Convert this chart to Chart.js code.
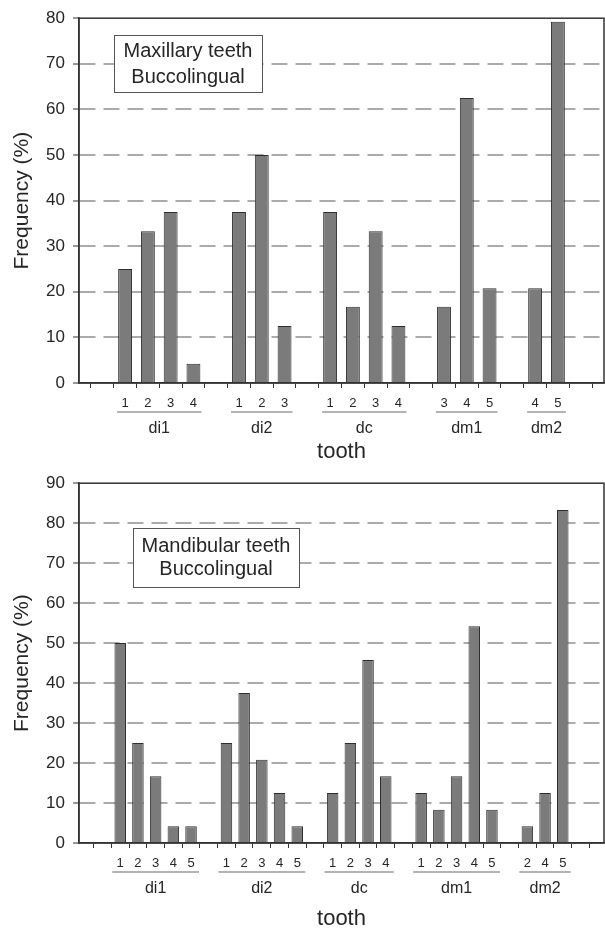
<!DOCTYPE html>
<html>
<head>
<meta charset="utf-8">
<script src="https://cdn.jsdelivr.net/npm/chart.js@4.4.1/dist/chart.umd.min.js"></script>
<style>
    html, body { margin: 0; padding: 0; background: #fff; }
    canvas { position: absolute; left: 0; }
    #upper-chart { top: 0; }
    #lower-chart { top: 465px; }
</style>
</head>
<body>
<canvas id="upper-chart" width="605" height="465"></canvas>
<canvas id="lower-chart" width="605" height="465"></canvas>
<script>
// Maxillary teeth
const upperGroups = ['di1', 'di2', 'dc', 'dm1', 'dm2'];
const upperTypes = [[1, 2, 3, 4], [1, 2, 3], [1, 2, 3, 4], [3, 4, 5], [4, 5]];
const upperFreq = [[25, 33.3, 37.5, 4.2], [37.5, 50, 12.5], [37.5, 16.7, 33.3, 12.5], [16.7, 62.5, 20.8], [20.8, 79.2]];
const upperTicks = [0, 10, 20, 30, 40, 50, 60, 70, 80];

// Mandibular teeth
const lowerGroups = ['di1', 'di2', 'dc', 'dm1', 'dm2'];
const lowerTypes = [[1, 2, 3, 4, 5], [1, 2, 3, 4, 5], [1, 2, 3, 4], [1, 2, 3, 4, 5], [2, 4, 5]];
const lowerFreq = [[50, 25, 16.7, 4.2, 4.2], [25, 37.5, 20.8, 12.5, 4.2], [12.5, 25, 45.8, 16.7], [12.5, 8.3, 16.7, 54.2, 8.3], [4.2, 12.5, 83.3]];
const lowerTicks = [0, 10, 20, 30, 40, 50, 60, 70, 80, 90];

const FONT = '"Liberation Sans", Arial, sans-serif';
Chart.defaults.font.family = FONT;
Chart.defaults.color = '#262626';

// one empty slot before, between and after each tooth group
function buildSlots(groups, types, freq) {
    const labels = [''];
    const points = [];
    const spans = [];
    groups.forEach((g, gi) => {
        const start = labels.length;
        types[gi].forEach((t, ti) => {
            points.push({ x: labels.length, y: freq[gi][ti] });
            labels.push(String(t));
        });
        spans.push({ name: g, start: start, end: labels.length - 1 });
        labels.push('');
    });
    return { labels, points, spans };
}

// box around the plot area
const frame = {
    id: 'frame',
    afterDatasetsDraw(chart) {
        const a = chart.chartArea;
        const ctx = chart.ctx;
        ctx.save();
        ctx.strokeStyle = '#333';
        ctx.lineWidth = 1.5;
        ctx.strokeRect(a.left, a.top, a.right - a.left, a.bottom - a.top);
        ctx.restore();
    }
};

// underline + tooth name under each group
const groupLabels = {
    id: 'groupLabels',
    afterDraw(chart, args, opts) {
        const ctx = chart.ctx;
        const x = chart.scales.x;
        const base = chart.chartArea.bottom;
        ctx.save();
        opts.spans.forEach(span => {
            const c1 = x.getPixelForValue(span.start);
            const c2 = x.getPixelForValue(span.end);
            ctx.strokeStyle = '#9a9a9a';
            ctx.lineWidth = 1.5;
            ctx.beginPath();
            ctx.moveTo(c1 - opts.overhang, base + opts.lineOffset);
            ctx.lineTo(c2 + opts.overhang, base + opts.lineOffset);
            ctx.stroke();
            ctx.fillStyle = '#262626';
            ctx.font = '16px ' + FONT;
            ctx.textAlign = 'center';
            ctx.textBaseline = 'middle';
            ctx.fillText(span.name, (c1 + c2) / 2, base + opts.labelOffset);
        });
        ctx.restore();
    }
};

// the boxed note inside the plot
const noteBox = {
    id: 'noteBox',
    afterDatasetsDraw(chart, args, opts) {
        const ctx = chart.ctx;
        ctx.save();
        ctx.fillStyle = '#fff';
        ctx.fillRect(opts.left, opts.top, opts.width, opts.height);
        ctx.strokeStyle = '#555';
        ctx.lineWidth = 1;
        ctx.strokeRect(opts.left + 0.5, opts.top + 0.5, opts.width, opts.height);
        ctx.fillStyle = '#262626';
        ctx.font = '20px ' + FONT;
        ctx.textAlign = 'center';
        ctx.textBaseline = 'middle';
        opts.lines.forEach((line, i) => {
            ctx.fillText(line, opts.left + opts.width / 2, opts.lineY[i]);
        });
        ctx.restore();
    }
};

function makeChart(id, cfg) {
    const slots = buildSlots(cfg.groups, cfg.types, cfg.freq);
    const yMax = cfg.yTicks[cfg.yTicks.length - 1];

    return new Chart(document.getElementById(id), {
        type: 'bar',
        data: {
            datasets: [{
                data: slots.points,
                backgroundColor: '#7b7b7b',
                borderColor: '#2e2e2e',
                borderWidth: 1,
                barPercentage: cfg.barPct,
                categoryPercentage: 1,
            }],
        },
        options: {
            responsive: false,
            animation: false,
            layout: { padding: { left: 0, right: 1, top: cfg.padTop, bottom: 0 } },
            plugins: {
                legend: { display: false },
                tooltip: { enabled: false },
                groupLabels: { spans: slots.spans, overhang: 8, lineOffset: cfg.lineOffset, labelOffset: cfg.labelOffset },
                noteBox: cfg.note,
            },
            scales: {
                x: {
                    type: 'linear',
                    min: cfg.xMin,
                    max: slots.labels.length - 1 - cfg.xMin,
                    afterBuildTicks: axis => {
                        axis.ticks = slots.labels.map((_, i) => ({ value: i }));
                    },
                    afterFit: s => { s.height = cfg.xHeight; },
                    ticks: {
                        callback: v => slots.labels[v] || '',
                        autoSkip: false,
                        maxRotation: 0,
                        font: { size: 13 },
                        padding: cfg.xPad,
                    },
                    grid: { drawOnChartArea: false, tickLength: 5, tickColor: '#333', tickWidth: 1 },
                    border: { color: '#333', width: 1.5 },
                    title: {
                        display: true,
                        text: 'tooth',
                        font: { size: 22, lineHeight: 1 },
                        padding: { top: 0, bottom: cfg.titlePad },
                    },
                },
                y: {
                    min: 0,
                    max: yMax,
                    afterBuildTicks: axis => {
                        axis.ticks = cfg.yTicks.map(v => ({ value: v }));
                    },
                    afterFit: s => { s.width = 79; },
                    ticks: { font: { size: 17 }, padding: 8 },
                    grid: {
                        color: ctx => (ctx.tick && (ctx.tick.value === 0 || ctx.tick.value === yMax)) ? 'rgba(0,0,0,0)' : '#ababab',
                        lineWidth: 2,
                        tickLength: 6,
                        tickColor: '#333',
                        tickWidth: 1,
                        tickBorderDash: [],
                    },
                    border: { color: '#333', width: 1.5, dash: [16, 8] },
                    title: {
                        display: true,
                        text: 'Frequency (%)',
                        font: { size: 21 },
                        padding: { top: 10, bottom: 0 },
                    },
                },
            },
        },
        plugins: [frame, groupLabels, noteBox],
    });
}

makeChart('upper-chart', {
    groups: upperGroups, types: upperTypes, freq: upperFreq, yTicks: upperTicks,
    barPct: 0.61, xMin: -0.5, padTop: 15, xHeight: 82, xPad: 8, titlePad: 2,
    lineOffset: 29, labelOffset: 46,
    note: { left: 114, top: 35, width: 148, height: 57, lines: ['Maxillary teeth', 'Buccolingual'], lineY: [51.5, 77.5] },
});

makeChart('lower-chart', {
    groups: lowerGroups, types: lowerTypes, freq: lowerFreq, yTicks: lowerTicks,
    barPct: 0.65, xMin: -0.8, padTop: 11, xHeight: 87, xPad: 8, titlePad: 0,
    lineOffset: 29, labelOffset: 46,
    note: { left: 133, top: 63, width: 166, height: 59, lines: ['Mandibular teeth', 'Buccolingual'], lineY: [81, 104] },
});
</script>
</body>
</html>
